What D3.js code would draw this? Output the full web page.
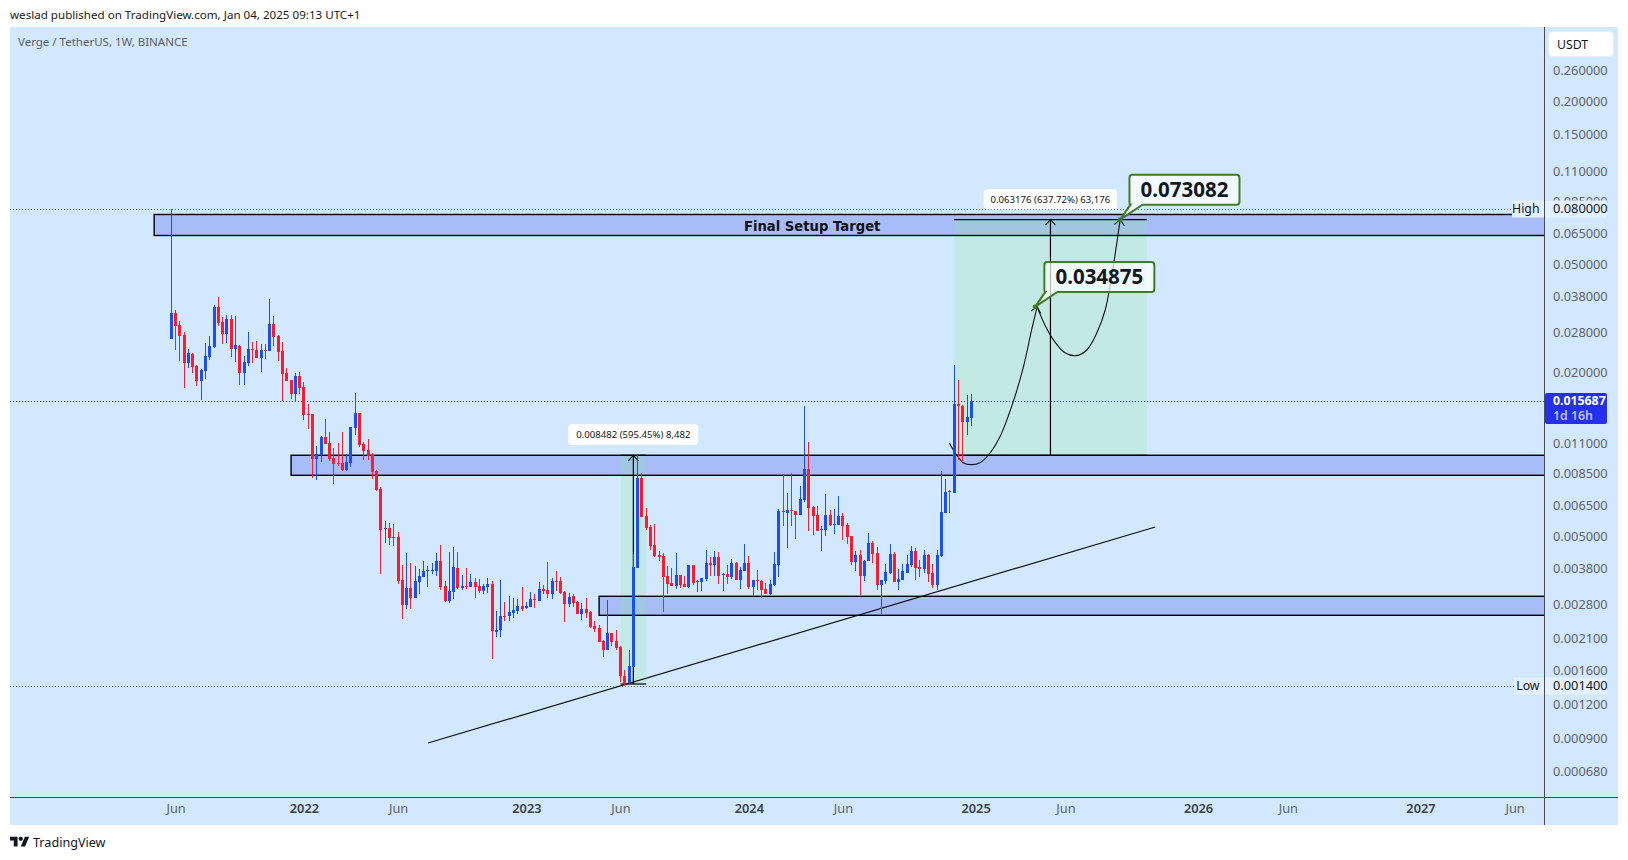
<!DOCTYPE html>
<html><head><meta charset="utf-8">
<style>
html,body{margin:0;padding:0;background:#fff;}
svg{display:block;font-family:"Noto Sans",sans-serif;}
</style>
<script src="https://cdn.jsdelivr.net/npm/d3@7/dist/d3.min.js"></script>
</head><body>
<svg id="c" width="1628" height="860"></svg>
<script>
const firstWeek = "2021-05-31";
const opens = [.0265,.03312,.02991,.02748,.02167,.02339,.02113,.01861,.02025,.02281,.02482,.03485,.03069,.02772,.03148,.02441,.02504,.01991,.02167,.02441,.0242,.02261,.0242,.024,.03017,.02725,.024,.01991,.01877,.01667,.01941,.01768,.01407,.01407,.00961,.00994,.01157,.011,.00969,.00928,.00928,.00875,.00928,.01249,.01419,.01091,.01037,.00994,.00868,.00745,.00531,.00535,.00496,.00496,.00344,.00279,.00322,.00296,.00339,.00353,.00372,.00372,.00372,.00404,.00327,.00288,.00311,.00381,.00322,.00327,.00324,.00339,.00327,.00314,.00324,.00333,.00222,.00225,.00254,.00254,.0026,.00265,.00276,.00272,.00274,.00293,.00288,.00319,.00316,.00306,.00341,.00341,.00311,.00281,.00301,.00286,.00258,.00269,.00263,.00233,.00229,.00205,.0019,.0022,.00205,.00195,.00153,.00144,.00165,.00381,.00818,.00592,.0054,.00463,.00426,.00422,.00356,.00336,.00327,.00359,.00333,.00324,.00391,.00339,.00339,.00347,.00398,.00391,.00418,.00359,.00362,.00353,.00398,.00344,.00372,.00398,.00324,.00344,.00341,.00319,.00306,.0033,.00391,.00618,.00608,.00623,.00618,.00597,.00678,.00882,.00639,.00597,.00526,.00526,.00597,.00549,.00549,.00592,.00549,.005,.00401,.00426,.00356,.00404,.00471,.00433,.0033,.00341,.00365,.00429,.00339,.00344,.00365,.00391,.0044,.00384,.00378,.00426,.00365,.0033,.00422,.00608,.00732,.0072,.01531,.01505,.01314,.0136];
const highs = [.08,.03397,.03095,.02819,.02441,.02359,.02131,.0206,.02568,.02725,.03544,.03793,.03201,.03256,.03256,.03229,.02525,.023,.02819,.0259,.02612,.02546,.02546,.03729,.03229,.02748,.0259,.02078,.01877,.01991,.02008,.01845,.01531,.01407,.01072,.01167,.01348,.01207,.01054,.011,.01207,.01002,.0126,.01681,.01419,.01109,.01138,.01011,.00875,.00758,.00568,.00558,.00554,.00517,.00391,.00433,.00398,.00388,.00378,.00404,.00388,.00398,.00433,.00463,.00341,.00437,.00455,.00437,.00359,.00381,.00362,.0035,.00347,.00333,.0035,.00341,.00265,.00344,.00286,.00301,.00296,.00293,.00324,.00286,.00311,.00306,.00339,.0033,.00401,.0035,.00372,.00353,.00314,.00308,.00306,.00288,.00283,.00296,.00265,.00243,.00235,.00207,.00291,.0022,.00225,.00197,.00161,.0019,.00429,.01002,.00853,.00634,.00549,.00554,.0044,.00433,.00388,.00381,.00433,.00359,.00356,.00391,.00391,.00344,.0035,.00444,.00418,.0044,.00437,.00365,.00391,.00411,.00401,.00384,.00467,.00422,.00344,.00375,.00344,.00336,.00344,.00437,.00629,.00846,.0072,.00853,.00618,.00764,.01505,.01109,.00645,.00645,.00544,.00714,.00623,.00629,.00702,.00608,.00558,.005,.0044,.00444,.00408,.00513,.00479,.00455,.00344,.00394,.00467,.00437,.00378,.00394,.00426,.00459,.00452,.00408,.00444,.00429,.00394,.00444,.00868,.00811,.00739,.02131,.01877,.01518,.01652,.01667];
const lows = [.0265,.0242,.02205,.01754,.02078,.01991,.01784,.01584,.01893,.02223,.02461,.02966,.02546,.02568,.02281,.02186,.01799,.01799,.02113,.02167,.02261,.02008,.02242,.024,.02504,.02205,.0157,.01861,.01597,.01557,.01667,.01337,.01239,.00818,.00804,.00936,.01091,.00944,.00777,.00905,.00868,.00868,.00897,.01177,.01063,.00952,.00952,.00811,.00732,.00362,.00471,.00463,.00459,.00333,.00247,.00269,.00269,.00296,.00306,.00353,.00324,.00362,.00356,.00316,.00286,.00283,.00293,.00319,.00316,.00319,.00324,.00296,.00308,.00306,.00308,.00176,.00212,.00212,.00243,.00243,.00249,.00258,.00265,.00269,.00274,.00272,.00288,.00306,.00296,.00293,.00314,.00306,.00241,.00274,.00274,.00258,.00245,.00249,.00229,.00222,.00204,.00179,.0019,.00197,.0019,.00145,.0014,.00143,.00165,.00381,.00587,.00526,.00444,.00418,.00404,.00263,.00306,.00327,.00319,.00322,.00324,.00322,.0033,.00311,.00314,.00341,.00356,.00356,.00333,.00314,.00333,.00347,.00344,.00319,.00372,.00319,.00301,.00316,.00296,.00306,.00303,.00327,.00353,.00544,.00452,.00544,.00487,.00597,.00667,.00522,.00504,.00522,.0044,.005,.00544,.00509,.00549,.00483,.00467,.00391,.00372,.00303,.00341,.00404,.00398,.00316,.00258,.00333,.00362,.00339,.00316,.00344,.00365,.00384,.00344,.00353,.00365,.00339,.00322,.00316,.00418,.00608,.00608,.0072,.00952,.00936,.01177,.01271];
const closes = [.03312,.02966,.02725,.02167,.02359,.02095,.01861,.02043,.023,.02504,.03485,.03043,.02772,.03148,.02441,.02525,.01991,.02186,.02441,.0242,.02261,.0242,.024,.03017,.02702,.02379,.01975,.01861,.01667,.01941,.01754,.01395,.01395,.00961,.01002,.01157,.01091,.00961,.00921,.00921,.00875,.00936,.0126,.01419,.01081,.01028,.00985,.0086,.00739,.00526,.00535,.00492,.00492,.00341,.00279,.00322,.00296,.00341,.00356,.00372,.00375,.00375,.00404,.00324,.00288,.00314,.00384,.00322,.00327,.00324,.00339,.00324,.00314,.00327,.00333,.00224,.00225,.00254,.00252,.00263,.00267,.00276,.00269,.00276,.00293,.00291,.00319,.00314,.00306,.00341,.00339,.00308,.00281,.00298,.00283,.00258,.00269,.0026,.00231,.00227,.00204,.0019,.0022,.00204,.00193,.00152,.00143,.00166,.00384,.00818,.00587,.00535,.00459,.00422,.00418,.00353,.00333,.00327,.00359,.0033,.00324,.00391,.00336,.00341,.0035,.00398,.00391,.00418,.00356,.00362,.00353,.00398,.00344,.00375,.00398,.00324,.00344,.00341,.00316,.00306,.00333,.00394,.00618,.00613,.00623,.00618,.00597,.00684,.00882,.00634,.00592,.00522,.00531,.00597,.00549,.00554,.00592,.00544,.00496,.00401,.00426,.00356,.00404,.00471,.00429,.0033,.00344,.00368,.00429,.00339,.00347,.00372,.00394,.0044,.00381,.00378,.00426,.00362,.0033,.00426,.00613,.00726,.00726,.01531,.01505,.01314,.01371,.015687];

const priceTicks = [.26,.2,.15,.11,.085,.065,.05,.038,.028,.02,.011,.0085,.0065,.005,.0038,.0028,.0021,.0016,.0012,.0009,.00068];
const timeTicks = ["2021-06-07","2022-01-03","2022-06-06","2023-01-02","2023-06-05","2024-01-01","2024-06-03","2025-01-06","2025-06-02","2026-01-05","2026-06-01","2027-01-04","2027-06-07"];

const highPrice = .08, lowPrice = .0014, lastPrice = .015687;
const zoneStartWeeks = [-4,28,100];
const zoneTops = [.07636,.00991,.002996];
const zoneBottoms = [.0639,.00836,.00255];
const trendWeeks = [60,230], trendPrices = [.000863,.005394];

const rangeStartWeeks = [105,183], rangeEndWeeks = [111,228], rangeArrowWeeks = [108,205.5];
const rangeBase = [.001424,.009906], rangeTop = [.009906,.073082];
const rangeLabels = ["0.008482 (595.45%) 8,482","0.063176 (637.72%) 63,176"];

const curve1Weeks = [181.9,182.8,183.6,185.1,187.1,189,191,193.7,196.8,199.2,201.1,202.4];
const curve1Prices = [.01097,.01036,.00993,.0093,.00915,.0093,.00993,.0116,.0156,.021,.02867,.034875];
const curve2Weeks = [202.4,204.2,206.5,208.9,211.5,214,216.3,218.3,219.8,221,221.8];
const curve2Prices = [.034875,.02992,.02596,.02365,.02306,.0242,.02788,.03397,.04507,.0598,.073082];
const calloutWeeks = [201.9,221.8], calloutPrices = [.034875,.073082], calloutTexts = ["0.034875","0.073082"];

const WEEK = 7*864e5;
const t0 = d3.utcParse("%Y-%m-%d");
const start = t0(firstWeek);
const week = n => new Date(+start + n*WEEK);

const P = {l:10,t:27,r:1618,b:825,ax:1544,ay:797};
const x = d3.scaleUtc().domain([week(0),week(187)]).range([171.3,971.3]);
const y = d3.scaleLog().domain([highPrice,lowPrice]).range([209,686]);

const C = {bg:"#d1e8ff",up:"#1c4ff2",dn:"#ff1a2e",zone:"#a8bcfa",range:"rgba(135,240,120,.2)",axis:"#4a4a4a",tick:"#5f6368",green:"#3f7d20",last:"#2430ee"};

const svg = d3.select("#c");
const defs = svg.append("defs");
defs.append("clipPath").attr("id","pane").append("rect").attr("x",P.l).attr("y",P.t).attr("width",P.ax-P.l).attr("height",P.ay-P.t);
defs.append("marker").attr("id","head").attr("viewBox","-7 -6 8 12").attr("refX",0).attr("refY",0)
  .attr("markerUnits","userSpaceOnUse").attr("markerWidth",8).attr("markerHeight",12).attr("orient","auto")
  .append("path").attr("d","M-5.5,-5L0,0L-5.5,5").attr("fill","none").attr("stroke","#111").attr("stroke-width",1.1);

svg.append("rect").attr("x",P.l).attr("y",P.t).attr("width",P.r-P.l).attr("height",P.b-P.t).attr("fill",C.bg);

const pane = svg.append("g").attr("clip-path","url(#pane)");

// zones (fill)
const zoneIdx = d3.range(zoneTops.length);
pane.append("g").selectAll("rect").data(zoneIdx).join("rect")
  .attr("x",i=>x(week(zoneStartWeeks[i]))).attr("y",i=>y(zoneTops[i]))
  .attr("width",i=>P.ax+10-x(week(zoneStartWeeks[i]))).attr("height",i=>y(zoneBottoms[i])-y(zoneTops[i]))
  .attr("fill",C.zone);

// price range fill
const rIdx = d3.range(rangeBase.length);
pane.append("g").selectAll("rect").data(rIdx).join("rect")
  .attr("x",i=>x(week(rangeStartWeeks[i]))).attr("y",i=>y(rangeTop[i]))
  .attr("width",i=>x(week(rangeEndWeeks[i]))-x(week(rangeStartWeeks[i])))
  .attr("height",i=>y(rangeBase[i])-y(rangeTop[i])).attr("fill",C.range);

// dotted price lines
const dots = [[highPrice,"#666"],[lowPrice,"#666"],[lastPrice,C.last]];
pane.append("g").selectAll("line").data(dots).join("line")
  .attr("x1",P.l).attr("x2",P.ax).attr("y1",d=>Math.round(y(d[0]))+.5).attr("y2",d=>Math.round(y(d[0]))+.5)
  .attr("stroke",d=>d[1]).attr("stroke-width",1).attr("stroke-dasharray","1 2");

// zone outlines
pane.append("g").selectAll("rect").data(zoneIdx).join("rect")
  .attr("x",i=>x(week(zoneStartWeeks[i]))).attr("y",i=>y(zoneTops[i]))
  .attr("width",i=>P.ax+10-x(week(zoneStartWeeks[i]))).attr("height",i=>y(zoneBottoms[i])-y(zoneTops[i]))
  .attr("fill","none").attr("stroke","#000").attr("stroke-width",1.4);

// trend line
pane.append("line").attr("x1",x(week(trendWeeks[0]))).attr("y1",y(trendPrices[0]))
  .attr("x2",x(week(trendWeeks[1]))).attr("y2",y(trendPrices[1])).attr("stroke","#111").attr("stroke-width",1.2);

// range measure lines
const rg = pane.append("g").attr("stroke","#000").attr("stroke-width",1.2).attr("fill","none");
rIdx.forEach(i=>{
  [rangeBase[i],rangeTop[i]].forEach(p=>{
    rg.append("line").attr("x1",x(week(rangeStartWeeks[i]))).attr("x2",x(week(rangeEndWeeks[i])))
      .attr("y1",y(p)).attr("y2",y(p));
  });
  rg.append("line").attr("x1",x(week(rangeArrowWeeks[i]))).attr("x2",x(week(rangeArrowWeeks[i])))
    .attr("y1",y(rangeBase[i])).attr("y2",y(rangeTop[i])).attr("marker-end","url(#head)");
});

// projected path
const lineGen = d3.line().x(d=>x(week(d[0]))).y(d=>y(d[1])).curve(d3.curveCatmullRom);
[[curve1Weeks,curve1Prices],[curve2Weeks,curve2Prices]].forEach(([w,p])=>{
  pane.append("path").attr("d",lineGen(d3.zip(w,p))).attr("fill","none").attr("stroke","#111")
    .attr("stroke-width",1.1).attr("marker-end","url(#head)");
});

// candles, on top of the drawings
const idx = d3.range(opens.length);
const col = i => closes[i]>=opens[i]?C.up:C.dn;
const cx = i => Math.floor(x(week(i)));
const cg = pane.append("g").attr("shape-rendering","crispEdges");
cg.selectAll("rect.w").data(idx).join("rect").attr("class","w")
  .attr("x",cx).attr("width",1)
  .attr("y",i=>Math.round(y(highs[i])))
  .attr("height",i=>Math.max(1,Math.round(y(lows[i]))-Math.round(y(highs[i]))))
  .attr("fill",col);
cg.selectAll("rect.b").data(idx).join("rect").attr("class","b")
  .attr("x",i=>cx(i)-1).attr("width",3)
  .attr("y",i=>Math.round(y(Math.max(opens[i],closes[i]))))
  .attr("height",i=>Math.max(1,Math.round(y(Math.min(opens[i],closes[i])))-Math.round(y(Math.max(opens[i],closes[i])))))
  .attr("fill",col);

// zone title
pane.append("text").attr("x",x(week(149.8))).attr("y",y(.0693)).attr("dy","0.36em")
  .attr("text-anchor","middle").attr("font-family","DejaVu Sans").attr("font-weight","700")
  .attr("font-size",13.2).attr("fill","#111").text("Final Setup Target");

// range labels
const rl = svg.append("g").selectAll("g").data(rIdx).join("g");
rl.append("rect").attr("x",i=>x(week(rangeArrowWeeks[i]))-(i?66.7:65))
  .attr("y",i=>y(rangeTop[i])-(i?30.5:31)).attr("width",i=>i?133.4:130).attr("height",i=>i?20:20.6)
  .attr("rx",4).attr("fill","#fff");
rl.append("text").attr("x",i=>x(week(rangeArrowWeeks[i])))
  .attr("y",i=>y(rangeTop[i])-(i?20.5:20.7)).attr("dy","0.36em").attr("text-anchor","middle")
  .attr("font-size",9.6).attr("fill","#131722").text(i=>rangeLabels[i]);

// callouts
const cIdx = d3.range(calloutTexts.length);
const callout = svg.append("g").selectAll("g").data(cIdx).join("g")
  .attr("transform",i=>`translate(${x(week(calloutWeeks[i]))},${y(calloutPrices[i])})`);
const W=110,H=30,DX=9.3,DY=-45,R=3;
callout.append("path").attr("d",()=>{
  const l=DX,t=DY,r=DX+W,b=DY+H;
  return `M${l+R},${t}H${r-R}Q${r},${t} ${r},${t+R}V${b-R}Q${r},${b} ${r-R},${b}H${l+13}L0,0L${l+1},${b}Q${l},${b} ${l},${b-R}V${t+R}Q${l},${t} ${l+R},${t}Z`;
}).attr("fill","rgba(255,255,255,.72)").attr("stroke",C.green).attr("stroke-width",2);
callout.append("circle").attr("r",2.4).attr("fill",C.green);
callout.append("text").attr("x",DX+W/2).attr("y",DY+H/2).attr("dy","0.36em").attr("text-anchor","middle")
  .attr("font-weight","700").attr("font-size",20.5).attr("fill","#131722").text(i=>calloutTexts[i]);

// axes
const gy = svg.append("g").attr("transform",`translate(${P.ax},0)`)
  .call(d3.axisRight(y).tickValues(priceTicks).tickFormat(d3.format(".6f")).tickSize(0).tickPadding(9));
gy.select(".domain").remove();
gy.selectAll("text").attr("font-size",12.8).attr("font-family","Noto Sans").attr("fill",C.tick);

const gx = svg.append("g").attr("transform",`translate(0,${P.ay})`)
  .call(d3.axisBottom(x).tickValues(timeTicks.map(t0))
    .tickFormat(d=>d.getUTCMonth()===0?String(d.getUTCFullYear()):"Jun").tickSize(0).tickPadding(7));
gx.select(".domain").remove();
gx.selectAll("text").attr("font-size",12.8).attr("font-family","Noto Sans")
  .attr("fill",d=>d.getUTCMonth()===0?"#3c3f46":C.tick)
  .attr("font-weight",d=>d.getUTCMonth()===0?600:400);

svg.append("line").attr("x1",P.l).attr("x2",P.r).attr("y1",P.ay+.5).attr("y2",P.ay+.5).attr("stroke",C.axis);
svg.append("line").attr("x1",P.ax+.5).attr("x2",P.ax+.5).attr("y1",P.t).attr("y2",P.b).attr("stroke",C.axis);

// High / Low tags
const tagData = [["High",highPrice,32],["Low",lowPrice,30]];
const tags = svg.append("g").selectAll("g").data(tagData).join("g")
  .attr("transform",d=>`translate(${P.ax},${y(d[1])})`);
tags.append("rect").attr("x",d=>-d[2]).attr("y",-8.5).attr("width",d=>d[2]).attr("height",17).attr("fill","#e3f0fe");
tags.append("rect").attr("x",1).attr("y",-8.5).attr("width",62).attr("height",17).attr("fill","#e3f0fe");
tags.append("text").attr("x",-4.5).attr("dy","0.34em").attr("text-anchor","end").attr("font-size",12.3).attr("fill","#131722").text(d=>d[0]);
tags.append("text").attr("x",9).attr("dy","0.34em").attr("font-size",12.8).attr("fill","#131722").text(d=>d3.format(".6f")(d[1]));

// last price tag
const lp = svg.append("g").attr("transform",`translate(${P.ax},${y(lastPrice)})`);
lp.append("rect").attr("x",1).attr("y",-8).attr("width",62).attr("height",31).attr("rx",2).attr("fill",C.last);
lp.append("text").attr("x",9).attr("dy","0.34em").attr("font-size",12.3).attr("font-weight",700).attr("fill","#fff").text(d3.format(".6f")(lastPrice));
lp.append("text").attr("x",9).attr("y",15).attr("dy","0.34em").attr("font-size",12.3).attr("font-weight",600).attr("fill","#b9c3ff").text("1d 16h");

// currency button
svg.append("rect").attr("x",1548.5).attr("y",31.5).attr("width",65).attr("height",25).attr("rx",4).attr("fill","#fff").attr("stroke","#e3eefb");
svg.append("text").attr("x",1557).attr("y",44.5).attr("dy","0.36em").attr("font-size",12.3).attr("fill","#131722").text("USDT");

// titles
svg.append("text").attr("x",10).attr("y",15).attr("dy","0.36em").attr("font-size",11.6).attr("fill","#1a1a1a")
  .text("weslad published on TradingView.com, Jan 04, 2025 09:13 UTC+1");
svg.append("text").attr("x",18).attr("y",42).attr("dy","0.36em").attr("font-size",11.5).attr("fill","#5b5f66")
  .text("Verge / TetherUS, 1W, BINANCE");

// footer logo
const logo = svg.append("g").attr("transform","translate(10,834.5) scale(.54)").attr("fill","#131722");
logo.append("path").attr("d","M14 22H7V11H0V4h14v18zM28 22h-8l7.5-18h8L28 22z");
logo.append("circle").attr("cx",20).attr("cy",8).attr("r",4);
svg.append("text").attr("x",33).attr("y",842.5).attr("dy","0.36em").attr("font-size",12.6).attr("fill","#131722").text("TradingView");
</script>
</body></html>
